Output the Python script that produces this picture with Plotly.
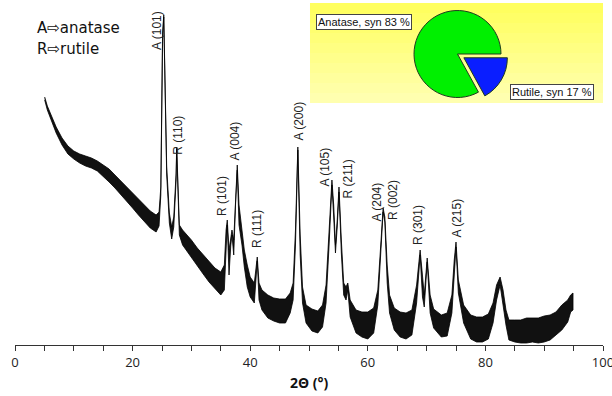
import plotly.graph_objects as go

# XRD pattern: noise band (upper / lower envelope, a.u.)
two_theta = [5.05, 5.5, 6.0, 7.0, 8.0, 9.0, 10.0, 11.0, 12.0, 13.0, 14.0, 15.0, 16.0, 17.0, 18.0,
             19.0, 20.0, 21.0, 22.0, 23.0, 24.0, 24.5, 24.8, 24.95, 25.1, 25.3, 25.5, 25.8, 26.25,
             26.65, 27.0, 27.4, 27.5, 27.7, 27.95, 28.5, 29.0, 30.0, 31.0, 32.0, 33.0, 34.0, 35.0,
             35.6, 35.9, 36.1, 36.4, 36.7, 36.9, 37.2, 37.5, 37.8, 38.1, 38.6, 39.0, 39.5, 40.0,
             40.7, 41.0, 41.2, 41.5, 42.0, 43.0, 44.0, 45.0, 46.0, 46.8, 47.3, 47.7, 48.1, 48.5,
             48.9, 49.5, 50.5, 51.5, 52.3, 52.9, 53.4, 53.9, 54.2, 54.5, 54.8, 55.1, 55.5, 55.9,
             56.3, 56.6, 57.0, 58.0, 59.0, 60.0, 61.0, 61.7, 62.2, 62.6, 62.9, 63.3, 63.7, 64.5,
             65.5, 66.5, 67.5, 68.3, 68.9, 69.3, 69.6, 70.1, 70.6, 71.2, 72.5, 73.5, 74.3, 74.7,
             75.0, 75.4, 75.8, 76.3, 77.5, 78.5, 79.5, 80.5, 81.3, 81.9, 82.5, 83.0, 83.5, 84.0,
             85.0, 86.0, 87.0, 88.0, 89.0, 90.0, 91.0, 92.0, 93.0, 94.0, 94.5, 94.9]
upper = [248, 239, 232, 218, 207, 199, 194, 191, 189, 187, 184, 180, 176, 170, 164,
         158, 152, 145, 139, 134, 130, 133, 158, 245, 312, 330, 278, 178, 132,
         118, 128, 172, 198, 158, 120, 115, 112, 105, 97, 90, 83, 77, 73,
         80, 115, 125, 95, 110, 115, 105, 150, 180, 140, 118, 95, 80, 68,
         62, 75, 88, 62, 55, 50, 47, 46, 46, 52, 62, 115, 198, 110,
         58, 40, 36, 34, 40, 60, 115, 165, 140, 100, 125, 158, 105, 62,
         58, 62, 45, 35, 33, 33, 37, 55, 100, 137, 128, 80, 50, 37,
         33, 32, 35, 60, 95, 65, 50, 87, 50, 36, 30, 32, 50, 85,
         103, 65, 55, 40, 30, 28, 28, 31, 42, 60, 68, 55, 35, 25,
         25, 25, 27, 27, 27, 29, 30, 33, 40, 45, 50, 52]
lower = [245, 235, 227, 212, 200, 191, 186, 182, 179, 177, 174, 169, 163, 157, 151,
         144, 137, 130, 123, 117, 113, 119, 150, 235, 305, 328, 270, 170, 122,
         106, 118, 165, 196, 152, 110, 100, 96, 87, 79, 71, 63, 56, 50,
         55, 95, 120, 70, 100, 110, 90, 140, 175, 120, 100, 78, 58, 48,
         42, 65, 84, 45, 35, 27, 24, 22, 22, 32, 45, 100, 195, 90,
         42, 22, 14, 12, 18, 42, 98, 160, 128, 92, 118, 153, 92, 50,
         45, 55, 28, 12, 8, 6, 12, 40, 85, 133, 123, 62, 32, 15,
         8, 6, 10, 42, 90, 48, 38, 83, 32, 17, 8, 9, 32, 72,
         98, 52, 38, 22, 6, 3, 3, 6, 22, 45, 60, 40, 20, 5,
         3, 2, 2, 3, 2, 3, 5, 10, 15, 23, 33, 35]

peak_labels = ["A (101)", "R (110)", "R (101)", "A (004)", "R (111)", "A (200)", "A (105)",
               "R (211)", "A (204)", "R (002)", "R (301)", "A (215)"]
label_two_theta = [24.06, 27.6, 35.2, 37.41, 41.16, 48.13, 52.72, 56.63, 61.56, 64.29, 68.54, 75.0]
label_intensity = [293, 188, 127, 183, 95, 202, 157, 145, 122, 123, 98, 105]

phases = ["Rutile, syn", "Anatase, syn"]
phase_pct = [17, 83]

x_ticks = [0, 20, 40, 60, 80, 100]
x_tick_text = ["0", "20", "40", "60", "80", "100"]

fig = go.Figure()

fig.add_trace(go.Scatter(
    x=two_theta + two_theta[::-1],
    y=upper + lower[::-1],
    mode="lines", fill="toself", fillcolor="#111111",
    line=dict(color="black", width=0.8),
    hoverinfo="skip", showlegend=False))

fig.add_trace(go.Pie(
    labels=phases, values=phase_pct, sort=False, direction="clockwise", rotation=90,
    pull=[0.17, 0], textinfo="none", hoverinfo="skip", showlegend=False,
    marker=dict(colors=["#0a1eff", "#00f000"], line=dict(color="#1f3a1f", width=1)),
    domain=dict(x=[0.666, 0.8391], y=[0.702, 0.9997])))

# yellow inset background (vertical gradient)
n_bands = 10
y0, y1 = 0.7076, 1.0
shapes = []
for i in range(n_bands):
    t = i / (n_bands - 1)
    b = int(95 + t * (175 - 95))
    shapes.append(dict(type="rect", xref="paper", yref="paper", layer="below",
                       x0=0.5017, x1=1.0,
                       y0=y1 - (i + 1) * (y1 - y0) / n_bands,
                       y1=y1 - i * (y1 - y0) / n_bands,
                       fillcolor=f"rgb(255,255,{b})", line=dict(width=0)))

annotations = []
for lab, xx, yy in zip(peak_labels, label_two_theta, label_intensity):
    annotations.append(dict(x=xx, y=yy, xref="x", yref="y", text=lab, textangle=-90,
                            showarrow=False, xanchor="center", yanchor="bottom",
                            font=dict(family="Liberation Sans", size=12, color="#222")))

annotations += [
    dict(x=0.034, y=0.927, xref="paper", yref="paper", text="A⇨anatase", showarrow=False,
         xanchor="left", yanchor="middle", font=dict(family="DejaVu Sans", size=15, color="#111")),
    dict(x=0.034, y=0.8655, xref="paper", yref="paper", text="R⇨rutile", showarrow=False,
         xanchor="left", yanchor="middle", font=dict(family="DejaVu Sans", size=15, color="#111")),
    dict(x=0.5927, y=0.9459, xref="paper", yref="paper",
         text=f"Anatase, syn {phase_pct[1]} %", showarrow=False,
         xanchor="center", yanchor="middle", bgcolor="white", bordercolor="#444",
         borderwidth=1, borderpad=1,
         font=dict(family="Liberation Sans", size=11, color="#111")),
    dict(x=0.9141, y=0.7412, xref="paper", yref="paper",
         text=f"Rutile, syn {phase_pct[0]} %", showarrow=False,
         xanchor="center", yanchor="middle", bgcolor="white", bordercolor="#444",
         borderwidth=1, borderpad=1,
         font=dict(family="Liberation Sans", size=11, color="#111")),
    dict(x=0.5, y=-0.111, xref="paper", yref="paper", text="<b>2Θ (°)</b>", showarrow=False,
         xanchor="center", yanchor="middle", font=dict(family="Open Sans", size=14, color="#111")),
]

fig.update_layout(
    width=612, height=396,
    margin=dict(l=15, r=9, t=3, b=51),
    paper_bgcolor="white", plot_bgcolor="white",
    shapes=shapes, annotations=annotations,
    xaxis=dict(range=[0, 100], tickvals=x_ticks, ticktext=x_tick_text, ticks="outside",
               ticklen=5, tickcolor="#333", showline=True, linecolor="#333", linewidth=1,
               showgrid=False, zeroline=False, automargin=False, ticklabeloverflow="allow",
               tickfont=dict(family="Open Sans", size=13, color="#222"),
               minor=dict(dtick=5, ticks="outside", ticklen=5, tickcolor="#333", showgrid=False)),
    yaxis=dict(range=[0, 342], visible=False, showgrid=False, zeroline=False),
)

fig.write_html("out.html", config={"displayModeBar": False},
               post_script="document.body.style.margin='0';document.body.style.padding='0';")
